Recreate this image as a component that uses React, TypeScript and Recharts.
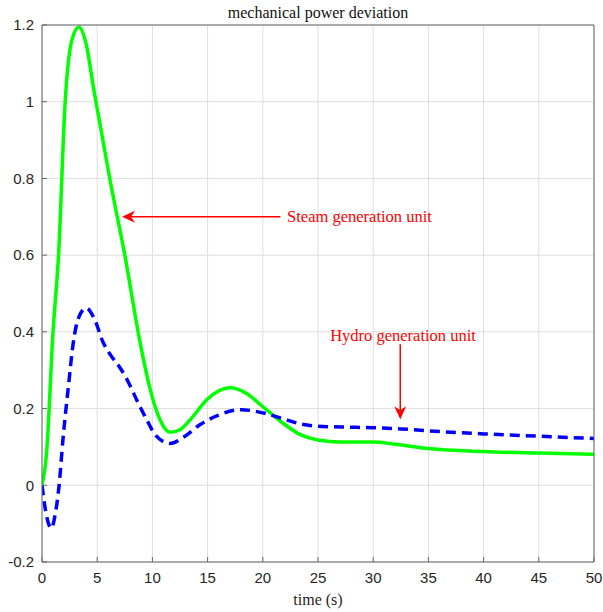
import { LineChart, Line, XAxis, YAxis, CartesianGrid, ReferenceLine, ReferenceDot } from "recharts";

// time (s) / deviation samples for each unit
const steamTime = [0, 0.4, 1.0, 1.5, 2.1, 2.7, 3.35, 4.0, 4.7, 6.2, 7.5, 8.9, 9.8, 10.7, 11.6, 12.5, 13.4, 15, 17, 18.5, 19.8, 21.6, 23.4, 25, 27, 30, 32, 35, 40, 45, 50];
const steamValues = [0, 0.08, 0.4, 0.6, 1.0, 1.16, 1.195, 1.15, 1.03, 0.79, 0.6, 0.37, 0.25, 0.17, 0.138, 0.145, 0.17, 0.225, 0.254, 0.24, 0.21, 0.167, 0.132, 0.118, 0.113, 0.113, 0.107, 0.096, 0.088, 0.084, 0.081];

const hydroTime = [0, 0.35, 0.85, 1.2, 1.55, 1.9, 2.4, 2.85, 3.3, 4.0, 4.8, 5.5, 6.2, 7.1, 7.8, 8.7, 9.5, 10.3, 11.6, 12.8, 14.3, 16, 18, 20.4, 22, 23.4, 25, 27, 30, 32.5, 35, 40, 45, 50];
const hydroValues = [0, -0.07, -0.112, -0.075, 0, 0.12, 0.26, 0.375, 0.436, 0.462, 0.43, 0.375, 0.34, 0.305, 0.27, 0.215, 0.17, 0.13, 0.109, 0.125, 0.158, 0.183, 0.197, 0.186, 0.172, 0.16, 0.154, 0.152, 0.15, 0.147, 0.142, 0.134, 0.128, 0.122];

const xTicks = [0, 5, 10, 15, 20, 25, 30, 35, 40, 45, 50];
const yTicks = [-0.2, 0, 0.2, 0.4, 0.6, 0.8, 1, 1.2];

// annotation anchors in data units
const steamArrow = { fromT: 21.6, toT: 7.25, v: 0.7 };
const steamLabel = { t: 22.2, v: 0.7, text: "Steam generation unit" };
const hydroArrow = { t: 32.45, fromV: 0.368, toV: 0.172 };
const hydroLabel = { t: 32.7, v: 0.391, text: "Hydro generation unit" };

const steamData = steamTime.map((t, i) => ({ t, v: steamValues[i] }));
const hydroData = hydroTime.map((t, i) => ({ t, v: hydroValues[i] }));

const RED = "#ff0000";
const AXIS = "#666666";
const SERIF = "'Liberation Serif', 'Times New Roman', serif";
const tickFont = { fontFamily: "'Liberation Sans', Arial, sans-serif", fontSize: 15, fill: "#262626" };

// line with a notched arrowhead at (x2, y2)
function Arrow(props: any) {
  const { x1, y1, x2, y2 } = props;
  const len = Math.hypot(x2 - x1, y2 - y1) || 1;
  const dx = (x2 - x1) / len;
  const dy = (y2 - y1) / len;
  const nx = -dy;
  const ny = dx;
  const headLen = 13;
  const half = 6;
  const notch = 9;
  const pts = [
    [x2, y2],
    [x2 - dx * headLen + nx * half, y2 - dy * headLen + ny * half],
    [x2 - dx * notch, y2 - dy * notch],
    [x2 - dx * headLen - nx * half, y2 - dy * headLen - ny * half],
  ];
  return (
    <g>
      <line x1={x1} y1={y1} x2={x2 - dx * notch} y2={y2 - dy * notch} stroke={RED} strokeWidth={1.5} />
      <polygon points={pts.map(p => p.join(",")).join(" ")} fill={RED} />
    </g>
  );
}

function makeLabel(text: string, anchor: "start" | "middle") {
  return (p: any) => (
    <text x={p.cx} y={p.cy} textAnchor={anchor} dominantBaseline="central" fill={RED} fontFamily={SERIF} fontSize={16.5}>
      {text}
    </text>
  );
}

export default function App() {
  return (
    <div style={{ position: "absolute", left: 0, top: 0, width: 603, height: 612, background: "#fff" }}>
      <LineChart width={603} height={612} margin={{ top: 24, right: 8, bottom: 0, left: 0 }}>
        <CartesianGrid xAxisId="main" yAxisId="main" stroke="#dedede" horizontalValues={yTicks} verticalValues={xTicks} />
        <XAxis
          xAxisId="main"
          dataKey="t"
          type="number"
          domain={[0, 50]}
          ticks={xTicks}
          height={50}
          stroke={AXIS}
          tickSize={-5}
          tickMargin={15}
          tick={tickFont}
          allowDataOverflow
          label={{ value: "time (s)", position: "insideBottom", offset: 7, fill: "#262626", fontFamily: SERIF, fontSize: 16 }}
        />
        <XAxis
          xAxisId="top"
          orientation="top"
          dataKey="t"
          type="number"
          domain={[0, 50]}
          ticks={xTicks}
          height={1}
          stroke={AXIS}
          tickSize={-5}
          tick={false}
          allowDataOverflow
          label={{ value: "mechanical power deviation", position: "top", offset: 6, fill: "#111", fontFamily: SERIF, fontSize: 16 }}
        />
        <YAxis
          yAxisId="main"
          type="number"
          domain={[-0.2, 1.2]}
          ticks={yTicks}
          width={42}
          stroke={AXIS}
          tickSize={-5}
          tickMargin={13}
          tick={tickFont}
          allowDataOverflow
        />
        <YAxis
          yAxisId="right"
          orientation="right"
          type="number"
          domain={[-0.2, 1.2]}
          ticks={yTicks}
          width={1}
          stroke={AXIS}
          tickSize={-5}
          tick={false}
          allowDataOverflow
        />
        {/* carries the top/right frame axes; draws nothing */}
        <Line
          xAxisId="top"
          yAxisId="right"
          data={steamData}
          dataKey="v"
          stroke="none"
          dot={false}
          activeDot={false}
          legendType="none"
          isAnimationActive={false}
        />
        <Line
          xAxisId="main"
          yAxisId="main"
          data={steamData}
          dataKey="v"
          type="monotone"
          stroke="#00ff00"
          strokeWidth={3.5}
          dot={false}
          isAnimationActive={false}
        />
        <Line
          xAxisId="main"
          yAxisId="main"
          data={hydroData}
          dataKey="v"
          type="monotone"
          stroke="#0000ff"
          strokeWidth={3.5}
          strokeDasharray="10 6"
          dot={false}
          isAnimationActive={false}
        />
        <ReferenceLine
          xAxisId="main"
          yAxisId="main"
          segment={[{ x: steamArrow.fromT, y: steamArrow.v }, { x: steamArrow.toT, y: steamArrow.v }]}
          shape={Arrow}
        />
        <ReferenceLine
          xAxisId="main"
          yAxisId="main"
          segment={[{ x: hydroArrow.t, y: hydroArrow.fromV }, { x: hydroArrow.t, y: hydroArrow.toV }]}
          shape={Arrow}
        />
        <ReferenceDot xAxisId="main" yAxisId="main" x={steamLabel.t} y={steamLabel.v} r={0} shape={makeLabel(steamLabel.text, "start")} />
        <ReferenceDot xAxisId="main" yAxisId="main" x={hydroLabel.t} y={hydroLabel.v} r={0} shape={makeLabel(hydroLabel.text, "middle")} />
      </LineChart>
    </div>
  );
}
